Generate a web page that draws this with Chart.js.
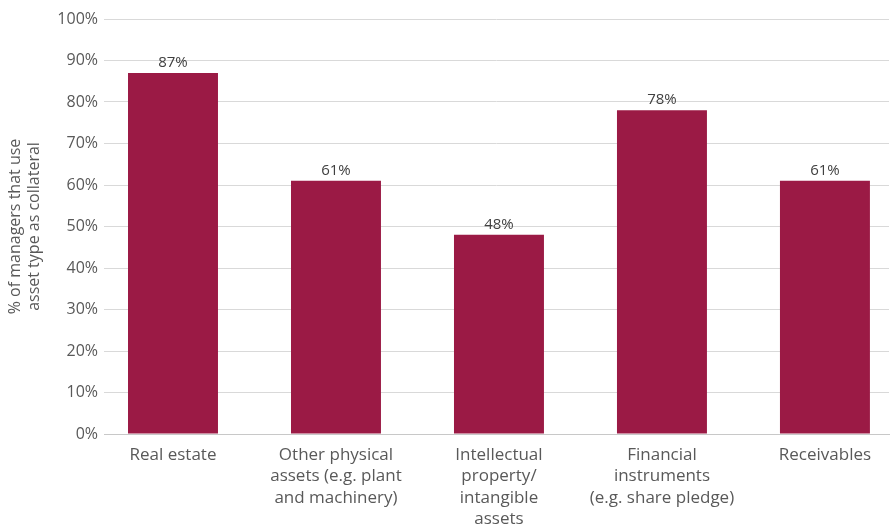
<!DOCTYPE html>
<html>
<head>
<meta charset="utf-8">
<script src="https://cdn.jsdelivr.net/npm/chart.js@4.4.1/dist/chart.umd.min.js"></script>
<style>
  html, body { margin: 0; padding: 0; background: #fff; overflow: hidden; }
  #wrap { width: 890px; height: 527px; position: relative; }
</style>
</head>
<body>
<div id="wrap"><canvas id="collateralChart"></canvas></div>
<script>
const categories = [
    ['Real estate'],
    ['Other physical', 'assets (e.g. plant', 'and machinery)'],
    ['Intellectual', 'property/', 'intangible', 'assets'],
    ['Financial', 'instruments', '(e.g. share pledge)'],
    ['Receivables']
];
const shareValues = [87, 61, 48, 78, 61];
const yTicks = [0, 10, 20, 30, 40, 50, 60, 70, 80, 90, 100];

const barColor = '#9b1a45';
const textColor = '#595959';
const fontFamily = '"Open Sans", "DejaVu Sans", sans-serif';

// draws the % value above each bar
const valueLabels = {
    id: 'valueLabels',
    afterDatasetsDraw(chart) {
        const ctx = chart.ctx;
        const meta = chart.getDatasetMeta(0);
        ctx.save();
        ctx.font = '15px ' + fontFamily;
        ctx.fillStyle = '#404040';
        ctx.textAlign = 'center';
        ctx.textBaseline = 'bottom';
        meta.data.forEach((bar, i) => {
            ctx.fillText(shareValues[i] + '%', bar.x, bar.y - 3);
        });
        ctx.restore();
    }
};

const ctx = document.getElementById('collateralChart').getContext('2d');
new Chart(ctx, {
    type: 'bar',
    data: {
        datasets: [{
            data: shareValues.map((v, i) => ({ x: i, y: v })),
            backgroundColor: barColor,
            barPercentage: 0.552,
            categoryPercentage: 1
        }]
    },
    options: {
        responsive: true, maintainAspectRatio: false, animation: false,
        layout: { padding: { top: 19, right: 1, left: 0, bottom: 0 } },
        plugins: { legend: { display: false }, tooltip: { enabled: false } },
        scales: {
            x: {
                type: 'linear',
                offset: false,
                min: -0.4233, max: 4.393,
                grid: { display: false, drawTicks: false },
                border: { display: true, color: '#c8c8c8', width: 1 },
                ticks: {
                    stepSize: 1, includeBounds: false, autoSkip: false, maxRotation: 0,
                    padding: 10, color: textColor,
                    font: { family: fontFamily, size: 17, lineHeight: 1.27 },
                    callback: v => Number.isInteger(v) && categories[v] ? categories[v] : ''
                },
                afterFit: scale => { scale.height = 93; }
            },
            y: {
                min: 0, max: 100,
                afterBuildTicks: scale => { scale.ticks = yTicks.map(v => ({ value: v })); },
                grid: { color: '#d9d9d9', drawTicks: false },
                border: { display: false },
                ticks: {
                    padding: 6, color: textColor,
                    font: { family: fontFamily, size: 16 },
                    callback: v => v + '%'
                },
                title: {
                    display: true,
                    text: ['% of managers that use', 'asset type as collateral'],
                    color: textColor,
                    font: { family: fontFamily, size: 16, lineHeight: 1.2 },
                    padding: { top: 6, bottom: 4 }
                },
                afterFit: scale => { scale.width = 104; }
            }
        }
    },
    plugins: [valueLabels]
});
</script>
</body>
</html>
